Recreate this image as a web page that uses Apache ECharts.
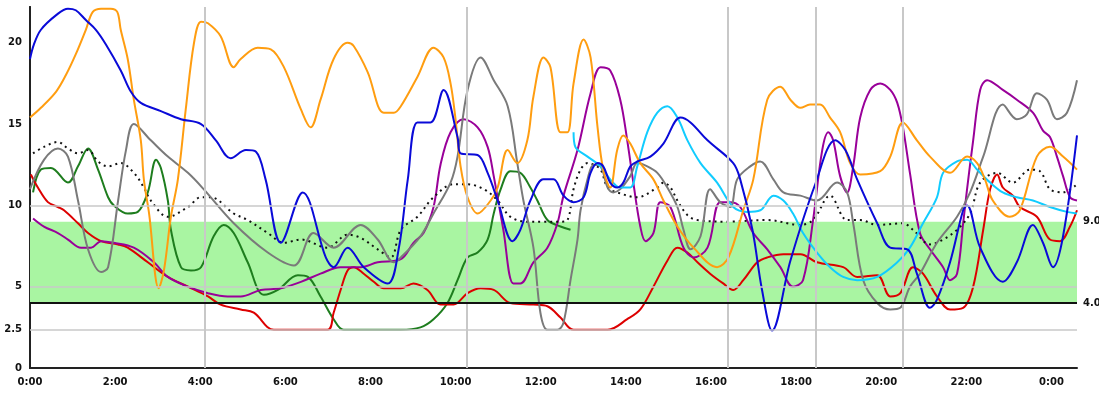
<!DOCTYPE html>
<html><head><meta charset="utf-8">
<script src="https://cdn.jsdelivr.net/npm/echarts@6/dist/echarts.min.js"></script>
<style>html,body{margin:0;padding:0;background:#fff}#c{width:1099px;height:394px}</style>
</head><body><div id="c"></div>
<script>
const xTickLabels = ["0:00","2:00","4:00","6:00","8:00","10:00","12:00","14:00","16:00","18:00","20:00","22:00","0:00"];
const yTickValues = [0,5,10,15,20];
const thresholdLow = 4, thresholdHigh = 9, grayLines = [10,5,2.35];
const thresholdLabels = ["9.0","4.0"]; const lowLineLabel = "2.5";
const verticalLines = [4,10,16,18,20];

const blue = [[0,19.0],[0.09,19.9],[0.25,20.8],[0.6,21.7],[0.87,22.1],[1.05,22.0],[1.28,21.4],[1.51,20.8],[1.74,19.9],[2.08,18.3],[2.31,17.0],[2.54,16.3],[3.0,15.8],[3.46,15.3],[3.92,15.0],[4.26,14.0],[4.6,12.9],[4.95,13.4],[5.18,13.3],[5.4,11.6],[5.75,7.7],[6.25,10.8],[6.78,6.8],[6.96,6.2],[7.28,7.4],[7.65,6.2],[8.2,5.2],[8.45,7.3],[8.66,11.6],[8.88,15.1],[9.18,15.1],[9.48,17.1],[9.8,14.2],[9.87,13.2],[10.26,13.1],[10.49,12.0],[10.72,10.3],[11.06,7.8],[11.24,8.5],[11.47,10.3],[11.77,11.6],[12.0,11.6],[12.23,10.6],[12.46,10.2],[12.69,10.5],[12.85,12.0],[13.01,12.6],[13.14,12.4],[13.3,11.4],[13.46,11.1],[13.6,11.4],[13.76,12.4],[13.92,12.7],[14.22,13.0],[14.52,13.8],[14.91,15.4],[15.14,15.1],[15.53,14.0],[16.12,12.6],[16.28,11.6],[16.56,8.5],[16.78,4.8],[17.01,2.3],[17.43,6.6],[18.0,11.3],[18.46,14.0],[18.69,13.4],[18.96,11.6],[19.42,8.9],[19.72,7.4],[20.11,7.3],[20.33,5.8],[20.63,3.7],[20.79,4.2],[21.09,6.5],[21.39,9.7],[21.48,10.0],[21.78,7.4],[22.3,5.3],[22.62,6.5],[22.99,8.8],[23.22,7.7],[23.45,6.2],[23.68,8.1],[24,14.3]];
const orange = [[0,15.4],[0.25,16.0],[0.6,17.0],[0.82,18.0],[1.05,19.3],[1.28,20.8],[1.44,21.9],[1.63,22.1],[1.85,22.1],[2.0,21.9],[2.08,20.8],[2.24,19.0],[2.38,16.5],[2.54,14.0],[2.61,11.6],[2.73,9.5],[2.95,4.9],[3.07,6.0],[3.23,9.3],[3.39,11.6],[3.57,15.9],[3.76,20.0],[3.92,21.3],[4.08,21.2],[4.37,20.4],[4.67,18.5],[4.83,19.0],[5.22,19.7],[5.52,19.6],[5.82,18.5],[6.21,15.9],[6.43,14.8],[6.66,16.5],[6.96,19.0],[7.28,20.0],[7.42,19.8],[7.74,18.2],[8.11,15.7],[8.34,15.7],[8.5,16.1],[8.88,17.9],[9.25,19.7],[9.48,19.1],[9.64,17.5],[9.75,15.4],[9.87,12.4],[10.03,10.5],[10.26,9.5],[10.56,10.3],[10.72,11.1],[10.95,13.4],[11.17,12.6],[11.4,14.0],[11.54,16.7],[11.77,19.1],[11.93,18.5],[12.16,14.5],[12.32,14.5],[12.46,17.5],[12.69,20.2],[12.85,19.1],[13.01,14.8],[13.14,12.2],[13.3,11.1],[13.46,13.4],[13.6,14.3],[13.76,13.8],[13.99,12.6],[14.29,11.6],[14.52,10.3],[14.84,8.7],[15.21,7.4],[15.75,6.2],[16.01,6.8],[16.35,9.7],[16.58,11.6],[16.9,16.5],[17.2,17.3],[17.43,16.5],[17.66,16.0],[17.88,16.2],[18.11,16.2],[18.34,15.4],[18.57,14.5],[18.8,12.6],[19.03,11.9],[19.49,12.1],[19.72,13.0],[20.01,15.1],[20.33,14.0],[20.63,13.0],[21.09,12.0],[21.48,13.0],[21.71,12.6],[21.89,11.6],[22.07,10.3],[22.46,9.3],[22.69,9.7],[23.08,13.0],[23.38,13.6],[23.68,13.0],[24,12.2]];
const gray = [[0,11.0],[0.32,12.8],[0.64,13.5],[0.87,13.0],[1.1,10.3],[1.33,7.3],[1.63,5.9],[1.79,6.2],[2.02,10.3],[2.2,13.4],[2.38,15.0],[2.77,14.0],[3.16,13.0],[3.62,12.0],[3.98,11.0],[4.67,8.9],[5.45,7.1],[6.05,6.3],[6.5,8.3],[6.96,7.4],[7.58,8.8],[7.97,7.9],[8.34,6.5],[8.5,6.8],[8.95,8.1],[9.25,9.5],[9.64,11.4],[9.8,13.0],[10.03,17.1],[10.33,19.1],[10.63,17.7],[10.95,16.1],[11.17,12.6],[11.31,10.3],[11.54,7.4],[11.7,3.4],[11.86,2.35],[12.09,2.35],[12.23,2.8],[12.39,5.4],[12.55,7.9],[12.62,9.7],[12.78,11.6],[12.92,12.5],[13.08,12.4],[13.24,11.1],[13.37,10.8],[13.53,11.0],[13.76,11.8],[13.92,12.6],[14.15,12.4],[14.38,12.0],[14.61,11.1],[14.84,9.9],[14.98,8.5],[15.14,7.3],[15.37,8.1],[15.59,11.0],[15.82,10.2],[16.05,9.9],[16.21,11.6],[16.51,12.4],[16.74,12.7],[17.04,11.6],[17.27,10.8],[17.66,10.6],[18.04,10.3],[18.5,11.4],[18.73,10.8],[18.87,8.9],[19.1,5.4],[19.42,4.0],[19.72,3.6],[19.95,3.7],[20.17,5.0],[20.4,5.8],[20.79,7.7],[21.25,9.3],[21.55,10.8],[21.85,13.0],[22.3,16.2],[22.62,15.3],[22.85,15.6],[23.08,16.9],[23.31,16.5],[23.54,15.3],[23.77,15.7],[24,17.7]];
const dotted = [[0.07,13.2],[0.32,13.6],[0.64,13.9],[0.87,13.5],[1.1,13.2],[1.33,13.4],[1.56,12.7],[1.79,12.4],[2.08,12.6],[2.38,12.0],[2.61,11.1],[2.77,10.3],[3.16,9.3],[3.62,9.9],[3.92,10.5],[4.14,10.5],[4.67,9.5],[4.99,9.1],[5.45,8.3],[5.82,7.7],[6.21,7.9],[6.82,7.4],[7.28,8.2],[7.58,8.0],[7.97,7.3],[8.27,6.8],[8.5,8.5],[8.88,9.3],[9.25,10.5],[9.71,11.3],[10.03,11.3],[10.4,11.0],[10.72,10.3],[11.01,9.3],[11.4,9.0],[11.77,9.0],[12.16,9.0],[12.32,9.1],[12.46,11.0],[12.62,12.2],[12.78,12.6],[12.92,12.5],[13.08,12.2],[13.24,11.1],[13.46,10.8],[13.92,10.5],[14.38,11.1],[14.52,11.4],[14.68,11.1],[14.84,10.3],[15.07,9.4],[15.3,9.1],[15.98,9.0],[16.9,9.1],[17.66,8.8],[17.95,9.1],[18.34,10.6],[18.73,9.1],[19.03,9.1],[19.42,8.8],[20.01,8.9],[20.24,8.5],[20.63,7.6],[20.93,7.9],[21.25,8.5],[21.55,9.5],[21.78,11.4],[22.17,12.0],[22.53,11.4],[22.92,12.2],[23.15,12.1],[23.38,11.0],[23.68,10.8],[24,11.3]];
const green = [[0.07,10.8],[0.25,12.2],[0.48,12.3],[0.87,11.4],[1.1,12.4],[1.33,13.5],[1.56,12.2],[1.79,10.5],[1.92,10.0],[2.24,9.5],[2.47,9.6],[2.7,10.8],[2.89,12.8],[3.0,12.3],[3.16,10.3],[3.23,8.5],[3.46,6.2],[3.69,6.0],[3.92,6.2],[4.21,8.1],[4.44,8.8],[4.67,8.3],[4.99,6.5],[5.36,4.5],[5.68,4.8],[6.14,5.7],[6.37,5.6],[6.66,4.4],[6.96,3.0],[7.19,2.35],[8.5,2.35],[8.95,2.5],[9.25,3.0],[9.57,4.0],[9.8,5.4],[10.03,6.8],[10.26,7.1],[10.49,7.9],[10.63,9.5],[10.79,11.0],[11.01,12.1],[11.24,12.0],[11.47,11.1],[11.63,10.3],[11.86,9.1],[12.16,8.7],[12.39,8.5]];
const red = [[0.02,11.9],[0.18,11.1],[0.41,10.2],[0.64,9.9],[0.78,9.7],[1.1,8.9],[1.33,8.3],[1.63,7.8],[2.02,7.6],[2.24,7.4],[2.7,6.5],[3.16,5.6],[3.62,5.0],[4.08,4.4],[4.37,3.9],[4.83,3.6],[5.13,3.4],[5.59,2.35],[6.82,2.35],[6.96,3.4],[7.12,4.8],[7.28,6.0],[7.42,6.2],[7.65,5.8],[7.88,5.3],[8.11,4.9],[8.5,4.9],[8.79,5.2],[9.11,4.8],[9.41,3.9],[9.71,3.9],[10.03,4.6],[10.33,4.9],[10.63,4.8],[11.01,4.0],[11.54,3.9],[11.86,3.8],[12.16,3.1],[12.46,2.35],[13.24,2.35],[13.69,3.0],[13.99,3.6],[14.29,5.0],[14.61,6.6],[14.84,7.4],[15.07,7.1],[15.3,6.5],[15.59,5.8],[15.89,5.2],[16.12,4.8],[16.35,5.4],[16.67,6.5],[16.9,6.8],[17.27,7.0],[17.66,7.0],[18.04,6.5],[18.64,6.2],[18.96,5.6],[19.42,5.7],[19.72,4.4],[19.95,4.6],[20.24,6.2],[20.47,5.8],[20.79,4.4],[21.09,3.6],[21.39,3.7],[21.62,5.0],[21.85,8.5],[22.01,11.0],[22.17,11.9],[22.3,11.1],[22.53,10.6],[22.69,9.9],[23.08,9.3],[23.38,7.9],[23.61,7.8],[23.84,8.7],[24,9.7]];
const purple = [[0.07,9.2],[0.32,8.7],[0.64,8.3],[0.87,7.9],[1.17,7.4],[1.4,7.4],[1.63,7.8],[1.92,7.7],[2.38,7.4],[2.84,6.5],[3.16,5.6],[3.62,5.0],[4.08,4.6],[4.53,4.4],[4.83,4.4],[5.29,4.8],[5.75,4.9],[6.21,5.3],[6.66,5.8],[7.12,6.2],[7.58,6.2],[7.97,6.5],[8.5,6.7],[8.79,7.7],[9.02,8.3],[9.25,9.9],[9.41,12.5],[9.64,14.5],[9.94,15.3],[10.26,14.8],[10.49,13.6],[10.63,11.8],[10.85,8.5],[11.08,5.2],[11.24,5.2],[11.54,6.5],[11.86,7.4],[12.09,8.9],[12.23,10.6],[12.55,13.4],[12.85,16.9],[13.08,18.5],[13.3,18.3],[13.53,16.5],[13.69,14.0],[13.83,11.4],[13.99,8.7],[14.11,7.8],[14.29,8.3],[14.45,10.2],[14.68,9.9],[14.98,7.4],[15.21,6.8],[15.53,7.4],[15.82,10.2],[16.05,10.2],[16.28,9.9],[16.58,8.3],[16.9,7.3],[17.2,6.2],[17.49,5.0],[17.72,5.4],[17.95,9.1],[18.16,13.4],[18.3,14.5],[18.41,14.0],[18.57,11.8],[18.73,10.8],[18.87,12.4],[19.03,15.4],[19.26,17.1],[19.49,17.5],[19.72,17.1],[19.88,16.3],[20.01,14.8],[20.17,12.0],[20.4,8.3],[20.63,7.3],[20.93,6.2],[21.09,5.4],[21.25,5.8],[21.39,8.9],[21.48,11.0],[21.62,14.0],[21.78,17.1],[21.94,17.7],[22.3,17.1],[22.62,16.5],[22.99,15.7],[23.22,14.6],[23.38,14.2],[23.54,13.0],[23.68,11.8],[23.84,10.5],[24,10.3]];
const cyan = [[12.46,14.5],[12.5,13.6],[12.78,13.0],[13.08,12.4],[13.3,11.6],[13.53,11.1],[13.76,11.1],[13.92,12.4],[14.15,14.5],[14.38,15.7],[14.61,16.1],[14.84,15.4],[15.07,14.0],[15.37,12.6],[15.75,11.4],[16.12,9.9],[16.44,9.6],[16.74,9.7],[17.04,10.6],[17.27,10.3],[17.49,9.5],[17.72,8.3],[18.04,7.1],[18.34,6.2],[18.64,5.6],[18.96,5.4],[19.42,5.6],[19.88,6.5],[20.17,7.4],[20.47,8.9],[20.79,10.5],[20.93,12.0],[21.25,12.7],[21.48,12.8],[21.71,12.2],[22.01,11.4],[22.3,10.8],[22.62,10.5],[22.99,10.3],[23.38,9.9],[23.77,9.6],[24,9.5]];

const Y_MAX = 22.2, LABEL_AXIS_MAX = 12.3;
const font = 'DejaVu Sans';
function line(data, color, extra) {
  return Object.assign({type:'line', data, xAxisIndex:0, yAxisIndex:0, showSymbol:false, symbol:'none',
    smooth:0.35, z:3, lineStyle:{color, width:2}, itemStyle:{color}, animation:false}, extra||{});
}
const chart = echarts.init(document.getElementById('c'), null, {renderer:'canvas'});
chart.setOption({
  animation:false,
  grid:{left:30, right:22, top:7, bottom:26, containLabel:false},
  xAxis:[
    {type:'value', min:0, max:24, show:false, position:'bottom'},
    {type:'value', min:0, max:LABEL_AXIS_MAX, interval:1, position:'bottom',
     axisLine:{show:true, lineStyle:{color:'#222', width:2}}, axisTick:{show:false}, splitLine:{show:false},
     axisLabel:{margin:9, color:'#111', fontFamily:font, fontSize:10, fontWeight:'bold',
       showMaxLabel:false,
       formatter:(v)=> Number.isInteger(v) && v < xTickLabels.length ? xTickLabels[v] : ''}}
  ],
  yAxis:[
    {type:'value', min:0, max:Y_MAX, interval:5, position:'left',
     axisLine:{show:true, lineStyle:{color:'#222', width:2}}, axisTick:{show:false}, splitLine:{show:false},
     axisLabel:{margin:8, color:'#111', fontFamily:font, fontSize:10, fontWeight:'bold',
       formatter:(v)=> yTickValues.includes(v) ? String(v) : ''}},
    {type:'value', min:0, max:Y_MAX, position:'right',
     axisLine:{show:true, lineStyle:{color:'#222', width:2}}, axisTick:{show:false}, axisLabel:{show:false}, splitLine:{show:false}}
  ],
  series:[
    {type:'line', data:[], z:1, xAxisIndex:0, yAxisIndex:0, silent:true,
     markArea:{silent:true, itemStyle:{color:'#a9f5a2'}, data:[[{yAxis:thresholdLow, xAxis:0},{yAxis:thresholdHigh, xAxis:24}]]},
     markLine:{silent:true, symbol:'none', animation:false,
       data:[
         ...grayLines.map((v,i)=>({yAxis:v, lineStyle:{color:'#c8c8c8', width:1.5, type:'solid'},
            label:{show: i===2, position:'start', formatter: lowLineLabel, color:'#111', fontFamily:font, fontSize:10, fontWeight:'bold', distance:8}})),
         ...verticalLines.map(v=>({xAxis:v, lineStyle:{color:'#c8c8c8', width:2, type:'solid'}, label:{show:false}})),
         {yAxis:thresholdHigh, lineStyle:{color:'rgba(0,0,0,0)', width:0}, label:{show:true, position:'end', formatter:thresholdLabels[0], color:'#111', fontFamily:font, fontSize:10, fontWeight:'bold', distance:6}},
         {yAxis:thresholdLow, lineStyle:{color:'#111', width:2, type:'solid'}, label:{show:true, position:'end', formatter:thresholdLabels[1], color:'#111', fontFamily:font, fontSize:10, fontWeight:'bold', distance:6}}
       ]}},
    line(green, '#1e7d1e'),
    line(red, '#dd0000'),
    line(purple, '#990099'),
    line(dotted, '#111111', {lineStyle:{color:'#111', width:2, type:[2,4]}}),
    line(gray, '#7a7a7a'),
    line(cyan, '#11ccff'),
    line(orange, '#ff9d10'),
    line(blue, '#0a0ad8')
  ]
});
</script></body></html>
